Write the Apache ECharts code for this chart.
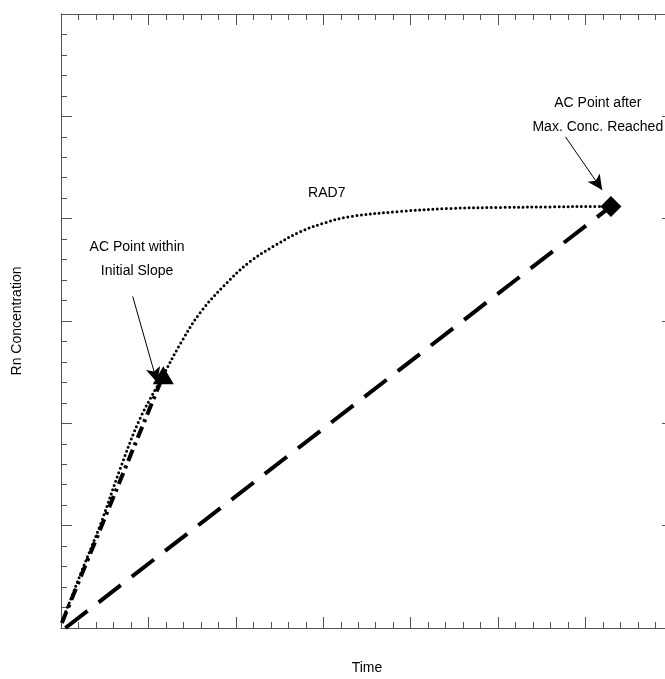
<!DOCTYPE html>
<html>
<head>
<meta charset="utf-8">
<script src="https://cdn.jsdelivr.net/npm/echarts@6/dist/echarts.min.js"></script>
<style>
  html, body { margin: 0; padding: 0; background: #fff; }
  #chart { width: 665px; height: 679px; }
</style>
</head>
<body>
<div id="chart"></div>
<script>
// RAD7 radon growth curve (time, concentration in axis units)
const rad7Time = [0.02, 0.22, 0.45, 0.67, 0.90, 1.17, 1.36, 1.59, 1.87, 2.16, 2.45, 2.73, 3.02, 3.30, 3.87, 4.45, 5.02, 5.59, 6.16, 6.29];
const rad7Conc = [0.08, 0.52, 1.01, 1.54, 2.04, 2.47, 2.77, 3.08, 3.35, 3.58, 3.74, 3.87, 3.96, 4.02, 4.07, 4.10, 4.11, 4.115, 4.12, 4.12];

// AC sampling points
const acInitial = [1.17, 2.47];
const acMax = [6.29, 4.12];

// Reference lines from the origin region to each AC point
const slopeLineStart = [0.01, 0.05];
const maxLineStart = [0.05, 0.0];

// Arrow annotations: [tail, head]
const arrowInitial = [[0.82, 3.24], [1.10, 2.40]];
const arrowMax = [[5.77, 4.80], [6.19, 4.28]];

// Annotation texts and their anchors
const noteTexts = ['AC Point within\nInitial Slope', 'AC Point after\nMax. Conc. Reached', 'RAD7'];
const notePositions = [[0.87, 3.60], [6.14, 5.01], [3.04, 4.25]];

const xRange = [0, 7];
const yRange = [0, 6];

const FONT = 'Liberation Sans, Arial, sans-serif';
const AXIS_COLOR = '#555';

const pair = (xs, ys) => xs.map((x, i) => [x, ys[i]]);

function frameAxis(extra) {
  return Object.assign({
    type: 'value',
    interval: 1,
    splitLine: { show: false },
    axisLine: { show: true, onZero: false, lineStyle: { color: AXIS_COLOR, width: 1 } },
    axisTick: { show: true, inside: true, length: 11, lineStyle: { color: AXIS_COLOR } },
    minorTick: { show: true, splitNumber: 5, length: 6, lineStyle: { color: AXIS_COLOR } },
    axisLabel: { show: false }
  }, extra);
}

const chart = echarts.init(document.getElementById('chart'), null, { renderer: 'canvas' });

chart.setOption({
  animation: false,
  backgroundColor: '#fff',
  grid: { left: 61, top: 14, width: 612, height: 614, containLabel: false, outerBoundsMode: 'none' },
  xAxis: [
    frameAxis({
      min: xRange[0], max: xRange[1], position: 'bottom',
      name: 'Time', nameLocation: 'middle', nameGap: 33,
      nameTextStyle: { fontFamily: FONT, fontSize: 14, color: '#000' }
    }),
    frameAxis({ min: xRange[0], max: xRange[1], position: 'top' })
  ],
  yAxis: [
    frameAxis({
      min: yRange[0], max: yRange[1], position: 'left',
      name: 'Rn Concentration', nameLocation: 'middle', nameGap: 37,
      nameTextStyle: { fontFamily: FONT, fontSize: 14, color: '#000' }
    }),
    frameAxis({ min: yRange[0], max: yRange[1], position: 'right' })
  ],
  series: [
    {
      name: 'Initial slope',
      type: 'line',
      data: [slopeLineStart, acInitial],
      symbol: 'none',
      lineStyle: { color: '#000', width: 4, type: [12, 5, 3, 5], cap: 'butt' },
      silent: true, z: 3
    },
    {
      name: 'Max line',
      type: 'line',
      data: [maxLineStart, acMax],
      symbol: 'none',
      lineStyle: { color: '#000', width: 4, type: [28, 14], cap: 'butt' },
      silent: true, z: 3
    },
    {
      name: 'RAD7',
      type: 'line',
      data: pair(rad7Time, rad7Conc),
      smooth: 0.35,
      symbol: 'none',
      lineStyle: { color: '#000', width: 3, type: [0, 4.5], cap: 'round' },
      silent: true, z: 4,
      markLine: {
        silent: true,
        symbol: ['none', 'arrow'],
        symbolSize: [11, 15],
        label: { show: false },
        lineStyle: { color: '#000', width: 1, type: 'solid' },
        emphasis: { disabled: true },
        data: [
          [{ coord: arrowInitial[0] }, { coord: arrowInitial[1] }],
          [{ coord: arrowMax[0] }, { coord: arrowMax[1] }]
        ]
      }
    },
    {
      name: 'AC initial',
      type: 'scatter',
      data: [acInitial],
      symbol: 'triangle',
      symbolSize: [21, 18],
      itemStyle: { color: '#000', opacity: 1 },
      silent: true, z: 6
    },
    {
      name: 'AC max',
      type: 'scatter',
      data: [acMax],
      symbol: 'diamond',
      symbolSize: [21, 21],
      itemStyle: { color: '#000', opacity: 1 },
      silent: true, z: 6
    },
    {
      name: 'Notes',
      type: 'scatter',
      data: notePositions.map((p, i) => ({ value: p, text: noteTexts[i] })),
      symbol: 'circle',
      symbolSize: 1,
      itemStyle: { color: '#fff', opacity: 1 },
      silent: true, z: 7,
      label: {
        show: true,
        position: 'inside',
        formatter: (p) => p.data.text,
        color: '#000',
        opacity: 1,
        fontFamily: FONT,
        fontSize: 14,
        lineHeight: 24,
        align: 'center',
        verticalAlign: 'middle'
      },
      labelLayout: { hideOverlap: false }
    }
  ]
});
</script>
</body>
</html>
